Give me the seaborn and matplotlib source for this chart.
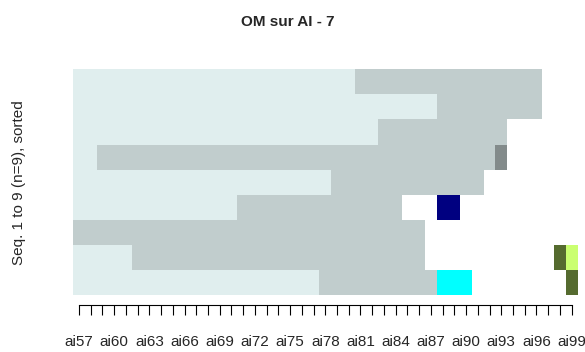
import numpy as np
import pandas as pd
import matplotlib
matplotlib.use("Agg")
import matplotlib.pyplot as plt
from matplotlib.colors import ListedColormap
import seaborn as sns

sns.set_theme(style="white")
plt.rcParams['font.family'] = ['Liberation Sans', 'DejaVu Sans']

# positions (columns) of the sequences
positions = [f"ai{i}" for i in range(57, 100)]
tick_every = 3

# states and their colours (None = void, not drawn)
state_names = ["L", "G", "D", "N", "C", "O", "Y"]
state_colors = ["#E0EEEE", "#C1CDCD", "#838B8B", "#000080", "#00FFFF", "#556B2F", "#CAFF70"]

# sequences, top row first, as (state, run length)
seq1 = [("L", 24), ("G", 16), (None, 3)]
seq2 = [("L", 31), ("G", 9), (None, 3)]
seq3 = [("L", 26), ("G", 11), (None, 6)]
seq4 = [("L", 2), ("G", 34), ("D", 1), (None, 6)]
seq5 = [("L", 22), ("G", 13), (None, 8)]
seq6 = [("L", 14), ("G", 14), (None, 3), ("N", 2), (None, 10)]
seq7 = [("G", 30), (None, 13)]
seq8 = [("L", 5), ("G", 25), (None, 11), ("O", 1), ("Y", 1)]
seq9 = [("L", 21), ("G", 10), ("C", 3), (None, 8), ("O", 1)]
sequences = [seq1, seq2, seq3, seq4, seq5, seq6, seq7, seq8, seq9]


def expand(runs):
    row = []
    for st, n in runs:
        code = np.nan if st is None else state_names.index(st)
        row += [code] * n
    return row


mat = pd.DataFrame([expand(s) for s in sequences], columns=positions)

fig = plt.figure(figsize=(5.85, 3.52), dpi=100)
ax = fig.add_axes([73.1 / 585, 1 - 295 / 352, 504.4 / 585, 225.7 / 352])

sns.heatmap(mat, ax=ax, cmap=ListedColormap(state_colors), vmin=-0.5,
            vmax=len(state_names) - 0.5, cbar=False, xticklabels=False,
            yticklabels=False)

ax.set_xticks(np.arange(len(positions)) + 0.5)
ax.set_xticklabels([p if i % tick_every == 0 else "" for i, p in enumerate(positions)],
                   rotation=0, fontsize=10.5)
ax.tick_params(axis="x", bottom=True, direction="out", length=7.5, width=0.8,
               color="black", pad=14)
ax.set_yticks([])

for side in ["top", "right", "left"]:
    ax.spines[side].set_visible(False)
ax.spines["bottom"].set_visible(True)
ax.spines["bottom"].set_color("black")
ax.spines["bottom"].set_linewidth(0.8)
ax.spines["bottom"].set_position(("outward", 7.5))
ax.spines["bottom"].set_bounds(0.5, len(positions) - 0.5)

ax.set_xlabel("")
ax.set_ylabel("Seq. 1 to 9 (n=9), sorted", fontsize=11)
ax.yaxis.set_label_coords(-0.093, 0.5)

fig.text(287.5 / 585, 1 - 22 / 352, "OM sur AI - 7", ha="center", va="center",
         fontsize=11, fontweight="bold")

fig.savefig("out.png", dpi=100)
